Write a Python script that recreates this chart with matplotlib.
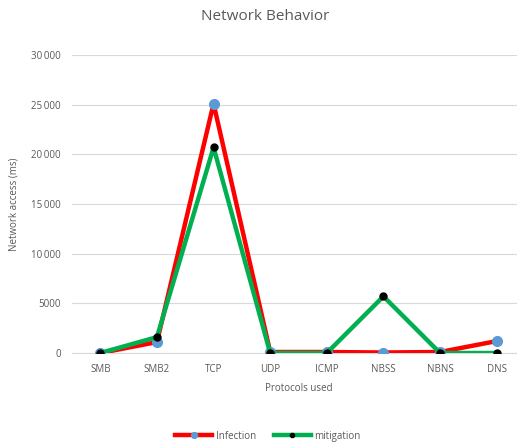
import matplotlib.pyplot as plt
import matplotlib.ticker as mticker

protocoles = ["SMB", "SMB2", "TCP", "UDP", "ICMP", "NBSS", "NBNS", "DNS"]
infection = [0, 1100, 25100, 100, 100, 50, 100, 1200]
mitigation = [0, 1600, 20700, 0, 0, 5700, 0, 0]

gris = "#595959"
plt.rcParams['font.family'] = ['Open Sans', 'DejaVu Sans']

fig = plt.figure(figsize=(5.17, 4.44), dpi=100)
ax = fig.add_axes([72/517, 91/444, 453/517, 298/444])

x = range(len(protocoles))
ax.plot(x, infection, color="#ff0000", linewidth=3.2, marker="o",
        markersize=7, markerfacecolor="#5b9bd5", markeredgecolor="#5b9bd5",
        label="Infection", zorder=3)
ax.plot(x, mitigation, color="#00b050", linewidth=3.2, marker="o",
        markersize=5, markerfacecolor="black", markeredgecolor="black",
        label="mitigation", zorder=4)

ax.set_xlim(-0.5, 7.5)
ax.set_ylim(0, 30000)
ax.set_yticks(range(0, 30001, 5000))
ax.yaxis.set_major_formatter(mticker.FuncFormatter(
    lambda v, p: f"{int(v):,}".replace(",", "\u2009") if v >= 10000 else f"{int(v)}"))
ax.set_xticks(list(x))
ax.set_xticklabels(protocoles)
ax.grid(axis="y", color="#d9d9d9", linewidth=0.8)
ax.set_axisbelow(True)
for s in ["top", "right", "left"]:
    ax.spines[s].set_visible(False)
ax.spines["bottom"].set_color("#d9d9d9")
ax.tick_params(axis="both", length=0, labelsize=7, colors=gris, pad=8)

# titre centré sur la zone visible
fig.text(265/517, 1 - 17/444, "Network Behavior", fontsize=11, color=gris,
         ha="center", va="center")
ax.set_xlabel("Protocols used", fontsize=7, color=gris, labelpad=6)
ax.set_ylabel("Network access (ms)", fontsize=7, color=gris)
ax.yaxis.set_label_coords(-52/453, 0.5)

leg = fig.legend(loc="center", bbox_to_anchor=(268/517, 1 - 436/444), ncol=2,
                 frameon=False, fontsize=7, labelcolor=gris, handlelength=3.8,
                 handletextpad=0.4, columnspacing=1.8, markerscale=0.6)

fig.savefig("out.png", dpi=100)
